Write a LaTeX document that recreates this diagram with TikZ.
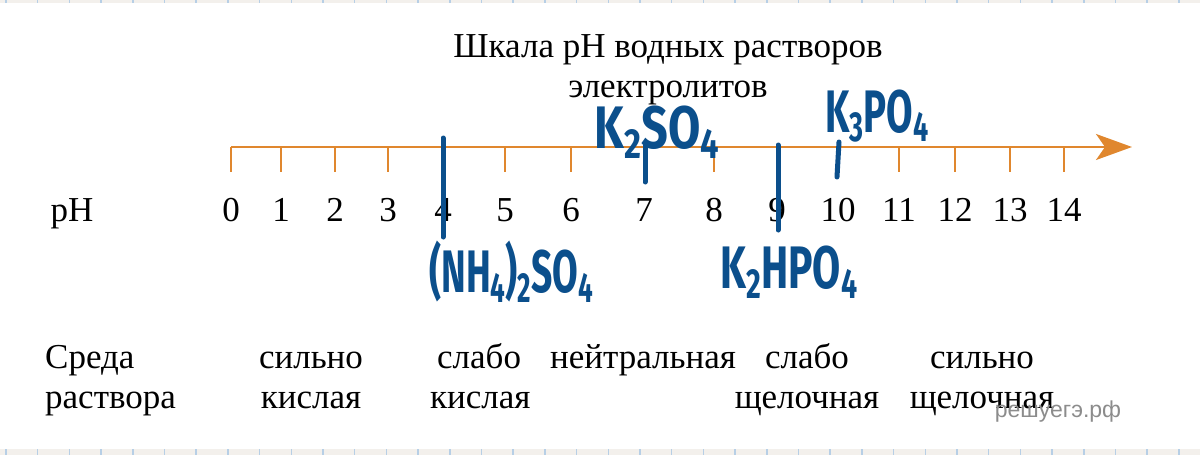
\documentclass[tikz,border=0pt]{standalone}
\usepackage{fontspec}
\setmainfont{Liberation Serif}
\setsansfont{Liberation Sans}
\newfontfamily\handfont{Fira Sans}
\usepackage{graphicx}
\usetikzlibrary{arrows.meta, positioning}
\definecolor{corange}{HTML}{E0872E}
\definecolor{cpen}{HTML}{0B4F8C}
\definecolor{cmark}{HTML}{8C8C8C}
\definecolor{cband}{HTML}{F3F0EC}
\definecolor{cgrid}{HTML}{B7CFE6}
\newcommand{\lo}[1]{\raisebox{-0.3ex}{\scalebox{0.7}{#1}}}
\tikzset{
  txt/.style={font=\fontsize{35}{40}\selectfont, inner sep=0pt, align=center, anchor=base},
  scaleaxis/.style={draw=corange, line width=2pt, -{Stealth[length=36pt, width=26pt, inset=9pt]}},
  scaletick/.style={draw=corange, line width=2pt},
  penline/.style={draw=cpen, line width=5pt, line cap=round},
  pentext/.style={text=cpen, font=\handfont\bfseries\fontsize{60}{60}\selectfont, inner sep=0pt},
  watermark/.style={text=cmark, font=\sffamily\fontsize{23}{23}\selectfont, inner sep=0pt},
}

\begin{document}
\begin{tikzpicture}[x=1pt, y=-1pt]
  \useasboundingbox (0,0) rectangle (1200,455);
  \fill[white] (0,0) rectangle (1200,455);
  % ruled page edges
  \fill[cband] (0,0) rectangle (1200,3);
  \fill[cband] (0,449) rectangle (1200,455);
  \foreach \g in {0,...,37} {
    \draw[cgrid, line width=1.5pt] (6+31.7*\g,0) -- (6+31.7*\g,3);
    \draw[cgrid, line width=1.5pt] (6+31.7*\g,449) -- (6+31.7*\g,455);
  }

  \node[txt] (title) at (668,97) {Шкала pH водных растворов\\электролитов};

  % scale
  \node[txt] (ph) at (72,221) {pH};
  \foreach \x [count=\i from 0] in {231,281,335,388,443,505,571,644,714,777,838,899,955,1010,1064} {
    \coordinate (p\i) at (\x,147);
    \draw[scaletick] (p\i) -- ++(0,25);
    \node[txt] (t\i) at (\x,221) {\i};
  }
  \coordinate (tip) at (1132,147);
  \draw[scaleaxis] (p0) -- (tip);

  % solution medium
  \node[txt, align=left, anchor=base west] (medium) at (45,408) {Среда\\раствора};
  \node[txt] (strongacid) at (311,408) {сильно\\кислая};
  \node[txt, align=left, anchor=base west] (weakacid) at (430,408) {\hspace*{7pt}слабо\\кислая};
  \node[txt] (neutral) at (643,368) {нейтральная};
  \node[txt] (weakbase) at (807,408) {слабо\\щелочная};
  \node[txt] (strongbase) at (982,408) {сильно\\щелочная};
  \node[watermark] (site) at (1058,412) {решуегэ.рф};

  % handwritten salts
  \coordinate (m4a) at (443,138);  \coordinate (m4b) at (443,237);
  \coordinate (m7a) at (645,143);  \coordinate (m7b) at (645,182);
  \coordinate (m9a) at (778,145);  \coordinate (m9b) at (778,230);
  \coordinate (m10a) at (839,142); \coordinate (m10b) at (837,177);
  \draw[penline] (m4a) -- (m4b);
  \draw[penline] (m7a) -- (m7b);
  \draw[penline] (m9a) -- (m9b);
  \draw[penline] (m10a) -- (m10b);
  \node[pentext] (ammsulf) at (511,272) {\scalebox{0.62}[1]{(NH\lo{4})\lo{2}SO\lo{4}}};
  \node[pentext] (potsulf) at (657,132) {\scalebox{0.78}[1]{K\lo{2}SO\lo{4}}};
  \node[pentext] (hydphos) at (789,272) {\scalebox{0.68}[1]{K\lo{2}HPO\lo{4}}};
  \node[pentext] (potphos) at (877,116) {\scalebox{0.64}[1]{K\lo{3}PO\lo{4}}};
\end{tikzpicture}
\end{document}
